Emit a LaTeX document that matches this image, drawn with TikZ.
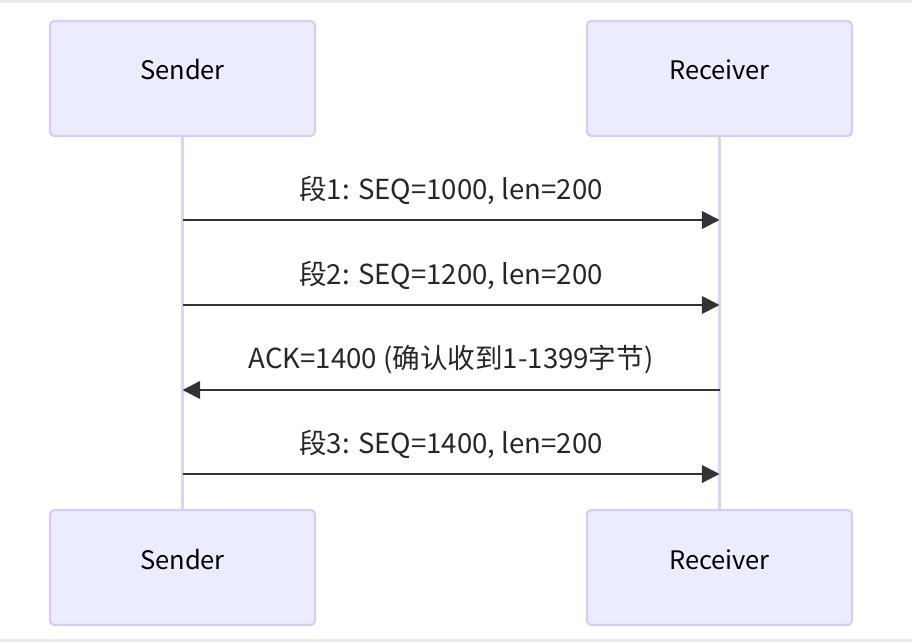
\documentclass[tikz,border=0pt]{standalone}
\usepackage{fontspec}
\setmainfont{Noto Sans CJK SC}
\usetikzlibrary{arrows.meta}
\definecolor{actorfill}{HTML}{ECECFF}
\definecolor{actorline}{HTML}{D7CCF4}
\definecolor{lifeline}{HTML}{DCD3F6}
\definecolor{msgline}{HTML}{333333}
\definecolor{edge}{HTML}{EBEBEB}
\tikzset{
	actor/.style={draw=actorline, fill=actorfill, line width=1.2pt, rounded corners=2.5pt, minimum width=265*0.02cm, minimum height=115*0.02cm, text height=0.4cm, text depth=0.34cm, font=\fontsize{14.5}{16}\selectfont},
	msg/.style={draw=msgline, line width=1.1pt, -{Triangle[length=10pt,width=10pt]}},
	msglabel/.style={font=\fontsize{15.7}{18}\selectfont, text=black!85}
}
\begin{document}
\begin{tikzpicture}[x=0.02cm, y=-0.02cm]
		\useasboundingbox (0,0) rectangle (912,642);
		%page edges
			\fill[edge] (0,0) rectangle (912,3);
			\fill[edge] (0,639) rectangle (912,642);
		%actors
			\node[actor] (sender) at (182.5,78.5) {Sender};
			\node[actor] (receiver) at (719.5,78.5) {Receiver};
			\node[actor] (senderend) at (182.5,567.5) {Sender};
			\node[actor] (receiverend) at (719.5,567.5) {Receiver};
		%lifelines
			\draw[lifeline, line width=1.6pt] (sender) -- (senderend);
			\draw[lifeline, line width=1.6pt] (receiver) -- (receiverend);
		%messages
			\foreach \n/\y in {1/220, 2/305, 3/390, 4/474} {
				\coordinate (s\n) at (sender |- 0,\y);
				\coordinate (r\n) at (receiver |- 0,\y);
			}
			\draw[msg] (s1) -- (r1) node[msglabel, midway, above=5pt] (m1) {段1: SEQ=1000, len=200};
			\draw[msg] (s2) -- (r2) node[msglabel, midway, above=5pt] (m2) {段2: SEQ=1200, len=200};
			\draw[msg] (r3) -- (s3) node[msglabel, midway, above=5pt] (m3) {ACK=1400 (确认收到1-1399字节)};
			\draw[msg] (s4) -- (r4) node[msglabel, midway, above=5pt] (m4) {段3: SEQ=1400, len=200};
	\end{tikzpicture}
\end{document}
